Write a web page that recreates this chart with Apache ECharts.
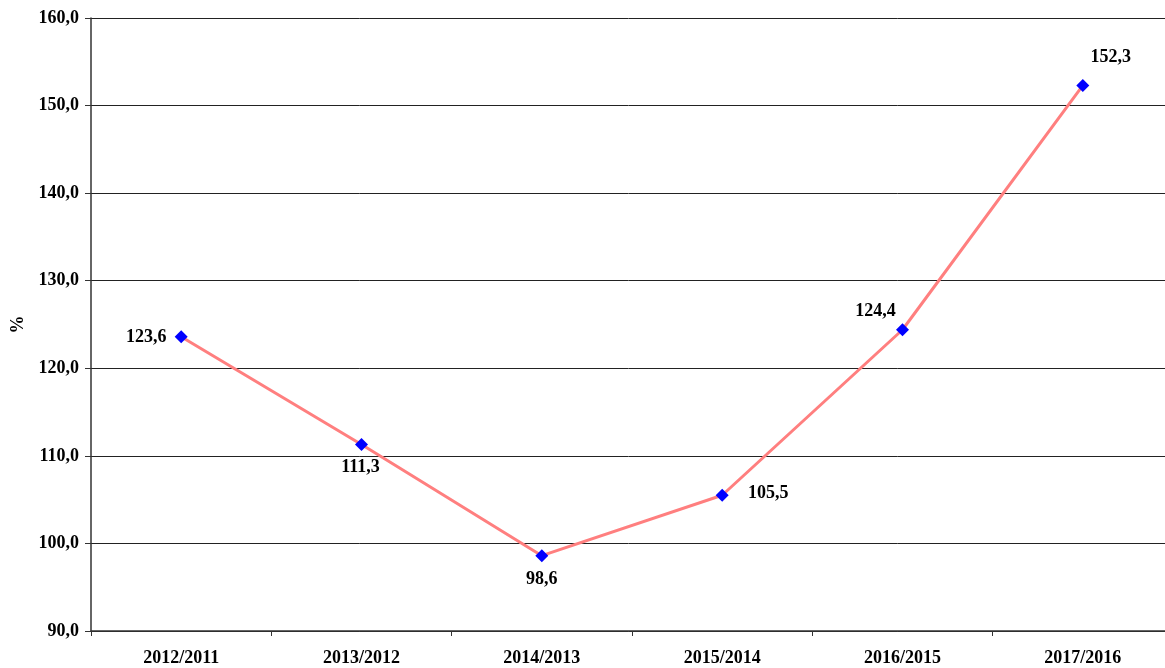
<!DOCTYPE html>
<html>
<head>
<meta charset="utf-8">
<script src="https://cdn.jsdelivr.net/npm/echarts@6/dist/echarts.min.js"></script>
<style>
  html, body { margin: 0; padding: 0; background: #fff; overflow: hidden; }
  #chart { width: 1165px; height: 668px; }
</style>
</head>
<body>
<div id="chart"></div>
<script>
// Year-over-year index, percent
const categories = ['2012/2011', '2013/2012', '2014/2013', '2015/2014', '2016/2015', '2017/2016'];
const values = [123.6, 111.3, 98.6, 105.5, 124.4, 152.3];
// Label placement around each marker, in pixels (dx, dy from the marker centre)
const labelShift = [[-35, 1], [-1, 23], [0, 24], [46, -2], [-27, -18], [28, -28]];

const FONT = '"Liberation Serif", "Times New Roman", serif';
const fmt = v => v.toFixed(1).replace('.', ',');

const seriesData = values.map((v, i) => ({
  value: v,
  label: { position: 'inside', offset: labelShift[i] }
}));

const chart = echarts.init(document.getElementById('chart'), null, { renderer: 'canvas' });
chart.setOption({
  animation: false,
  backgroundColor: '#ffffff',
  grid: { left: 91, width: 1082, top: 18, height: 613, containLabel: false, outerBoundsMode: 'none' },
  xAxis: {
    type: 'category',
    data: categories,
    boundaryGap: true,
    axisLine: { lineStyle: { color: '#333333', width: 1.5 } },
    axisTick: { show: true, alignWithLabel: false, length: 5, lineStyle: { color: '#333333' } },
    axisLabel: { color: '#000', fontFamily: FONT, fontWeight: 'bold', fontSize: 18, margin: 18 },
    splitLine: { show: false }
  },
  yAxis: {
    type: 'value',
    min: 90,
    max: 160,
    interval: 10,
    name: '%',
    nameLocation: 'middle',
    nameGap: 64,
    nameRotate: 90,
    nameTextStyle: { color: '#000', fontFamily: FONT, fontWeight: 'bold', fontSize: 18 },
    axisLine: { show: true, lineStyle: { color: '#333333', width: 1.5 } },
    axisTick: { show: true, length: 6, lineStyle: { color: '#333333' } },
    axisLabel: { color: '#000', fontFamily: FONT, fontWeight: 'bold', fontSize: 18, margin: 12, formatter: fmt },
    splitLine: { show: true, lineStyle: { color: '#222222', width: 1 } }
  },
  series: [{
    type: 'line',
    data: seriesData,
    symbol: 'diamond',
    symbolSize: 13,
    itemStyle: { color: '#0000ff' },
    lineStyle: { color: '#ff7f7f', width: 3 },
    label: {
      show: true,
      color: '#000',
      fontFamily: FONT,
      fontWeight: 'bold',
      fontSize: 18,
      align: 'center',
      verticalAlign: 'middle',
      formatter: p => fmt(p.value)
    },
    z: 3
  }]
});
</script>
</body>
</html>
